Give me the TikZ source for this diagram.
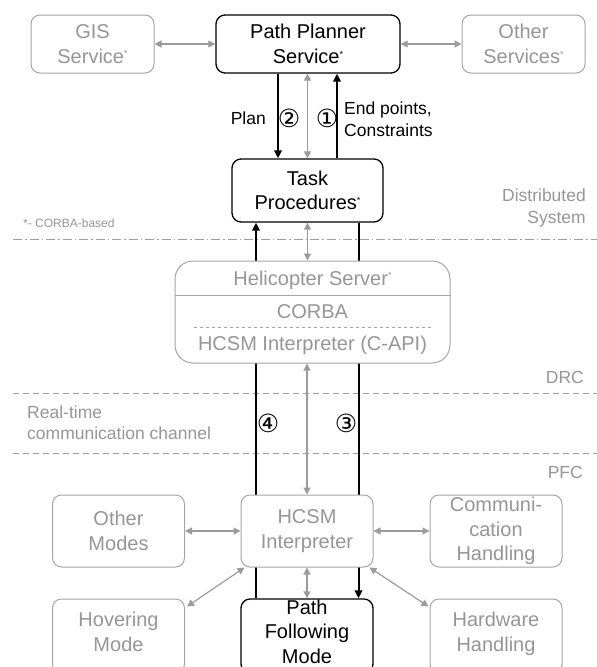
\documentclass[tikz,border=0pt]{standalone}
\usepackage{fontspec}
\setmainfont{Liberation Sans}
\newfontfamily\circfont{DejaVu Sans}
\usetikzlibrary{arrows.meta,positioning,backgrounds}

\newcommand{\corba}{\raisebox{0.6ex}{\fontsize{9}{9}\selectfont *}}

\begin{document}
\begin{tikzpicture}[x=1pt, y=-1pt,
    font=\fontsize{20}{24.5}\selectfont,
    box/.style={rectangle, rounded corners=9pt, draw=linegray, fill=white, text=softgray,
        line width=1pt, align=center, inner sep=0pt, minimum width=132pt, minimum height=72pt},
    mainbox/.style={box, draw=black, text=black, line width=1.3pt},
    lowbox/.style={minimum height=74pt, text depth=9pt},
    garrow/.style={{Triangle[length=7pt,width=7pt]}-{Triangle[length=7pt,width=7pt]},
        draw=arrowgray, line width=1.2pt},
    barrow/.style={-{Triangle[length=8pt,width=7.5pt]}, line width=2pt},
    lbl/.style={inner sep=0pt, font=\fontsize{17.5}{21.5}\selectfont},
    sidelbl/.style={lbl, text=softgray},
    circnum/.style={inner sep=0pt, font=\circfont\fontsize{25}{25}\selectfont}]
    % Define colors
    \definecolor{softgray}{RGB}{150,150,150}
    \definecolor{linegray}{RGB}{165,165,165}
    \definecolor{arrowgray}{RGB}{155,155,155}
    \definecolor{sepgray}{RGB}{160,160,160}

    \useasboundingbox (0,0) rectangle (597,667);
    \clip (0,0) rectangle (597,667);

    % Draw nodes
    \node[box, minimum width=123pt, minimum height=58pt] (gis) at (92.5,44) {GIS\\Service\corba};
    \node[mainbox, minimum width=184pt, minimum height=58pt] (pps) at (308,44) {Path Planner\\Service\corba};
    \node[box, minimum width=123pt, minimum height=58pt] (others) at (523.5,44) {Other\\Services\corba};
    \node[mainbox, minimum width=151pt, minimum height=63pt] (tp) at (307.5,190.5) {Task\\Procedures\corba};

    \node[box, rounded corners=18pt, minimum width=275pt, minimum height=102pt] (heli) at (312.5,312) {};
    \node[text=softgray] (heliname) at (312.5,280) {Helicopter Server\corba};
    \node[text=softgray] (corbaname) at (312.5,312) {CORBA};
    \node[text=softgray] (capi) at (312.5,345) {HCSM Interpreter (C-API)};
    \draw[linegray, line width=1pt] ([yshift=-35pt]heli.north west) -- ([yshift=-35pt]heli.north east);
    \draw[linegray, line width=1pt, dashed] ([xshift=19pt,yshift=-67pt]heli.north west) -- ([xshift=-20pt,yshift=-67pt]heli.north east);

    \node[box] (hcsm) at (307,531) {HCSM\\Interpreter};
    \node[box] (othmodes) at (118.5,531) {Other\\Modes};
    \node[box] (comm) at (496,531) {Communi-\\cation\\Handling};
    \node[box, lowbox] (hover) at (118.5,636) {Hovering\\Mode};
    \node[mainbox, lowbox] (pfm) at (307,636) {Path\\Following\\Mode};
    \node[box, lowbox] (hw) at (496,636) {Hardware\\Handling};

    % Layer borders and the long links
    \begin{scope}[on background layer]
        \draw[sepgray, line width=1pt, dash pattern=on 9pt off 3pt on 1.5pt off 3pt] (13,239) -- (597,239);
        \draw[sepgray, line width=1pt, dash pattern=on 6pt off 4pt] (13,393) -- (597,393);
        \draw[sepgray, line width=1pt, dash pattern=on 6pt off 4pt] (13,453) -- (597,453);
        \draw[barrow] ([xshift=-51pt]pfm.north) -- ([xshift=-51pt]pfm.north |- tp.south);
        \draw[barrow] ([xshift=51pt]tp.south) -- ([xshift=51pt]tp.south |- pfm.north);
    \end{scope}

    % Draw arrows
    \draw[garrow] (gis) -- (pps);
    \draw[garrow] (pps) -- (others);
    \draw[barrow] ([xshift=-30pt]pps.south) -- ([xshift=-30pt]pps.south |- tp.north);
    \draw[garrow] (tp.north) -- (tp.north |- pps.south);
    \draw[barrow] ([xshift=29.5pt]tp.north) -- ([xshift=29.5pt]tp.north |- pps.south);
    \draw[garrow] (tp.south) -- (tp.south |- heli.north);
    \draw[garrow] (hcsm.north) -- (hcsm.north |- heli.south);
    \draw[garrow] (othmodes) -- (hcsm);
    \draw[garrow] (hcsm) -- (comm);
    \draw[garrow] (hcsm) -- (pfm);
    \draw[garrow] ([xshift=4pt]hcsm.south west) -- ([xshift=2pt,yshift=-8pt]hover.north east);
    \draw[garrow] ([xshift=-4pt]hcsm.south east) -- ([xshift=-1pt,yshift=-8pt]hw.north west);

    % Add labels
    \node[circnum] (two) at (289,118) {②};
    \node[circnum] (one) at (327,118) {①};
    \node[circnum] (four) at (268,423) {④};
    \node[circnum] (three) at (346,423) {③};
    \node[lbl, anchor=east] (plan) at (266,118) {Plan};
    \node[lbl, anchor=west, align=left] (endpts) at (344,119) {End points,\\Constraints};
    \node[sidelbl, anchor=east, align=right] (distsys) at (586,208) {Distributed\\System};
    \node[sidelbl, anchor=west, font=\fontsize{12}{14}\selectfont] (note) at (23,223) {*- CORBA-based};
    \node[sidelbl, anchor=east] (drc) at (584,377) {DRC};
    \node[sidelbl, anchor=west, align=left] (rtchan) at (27,422.5) {Real-time\\communication channel};
    \node[sidelbl, anchor=east] (pfc) at (583,472) {PFC};
\end{tikzpicture}
\end{document}
